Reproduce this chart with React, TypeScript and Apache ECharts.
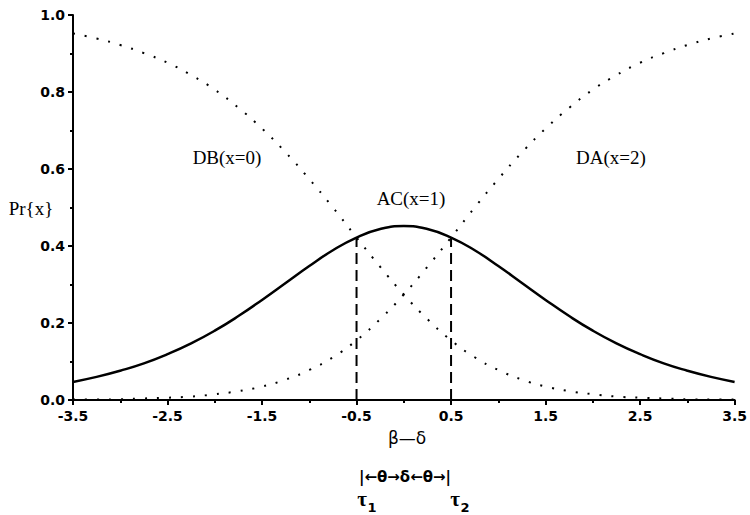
import React, { useEffect, useRef } from "react";
import * as echarts from "echarts";

// β−δ positions (logits)
const betaMinusDelta = [
  -3.5, -3.25, -3.0, -2.75, -2.5, -2.25, -2.0, -1.75, -1.5, -1.25, -1.0, -0.75, -0.5, -0.25, 0,
  0.25, 0.5, 0.75, 1.0, 1.25, 1.5, 1.75, 2.0, 2.25, 2.5, 2.75, 3.0, 3.25, 3.5,
];
// DB (x=0), dotted
const probDB = [
  0.952, 0.939, 0.922, 0.901, 0.876, 0.844, 0.806, 0.759, 0.705, 0.643, 0.574, 0.5, 0.422, 0.346, 0.274,
  0.21, 0.155, 0.111, 0.078, 0.053, 0.035, 0.023, 0.015, 0.009, 0.006, 0.004, 0.002, 0.001, 0.001,
];
// AC (x=1), solid
const probAC = [
  0.047, 0.06, 0.076, 0.095, 0.119, 0.147, 0.18, 0.218, 0.26, 0.304, 0.348, 0.389, 0.422, 0.444, 0.452,
  0.444, 0.422, 0.389, 0.348, 0.304, 0.26, 0.218, 0.18, 0.147, 0.119, 0.095, 0.076, 0.06, 0.047,
];
// DA (x=2), dotted
const probDA = [
  0.001, 0.001, 0.002, 0.004, 0.006, 0.009, 0.015, 0.023, 0.035, 0.053, 0.078, 0.111, 0.155, 0.21, 0.274,
  0.346, 0.422, 0.5, 0.574, 0.643, 0.705, 0.759, 0.806, 0.844, 0.876, 0.901, 0.922, 0.939, 0.952,
];
// thresholds τ1, τ2 and height of AC there
const thresholds = [-0.5, 0.5];
const thresholdHeights = [0.422, 0.422];

const curveLabels = ["DB(x=0)", "AC(x=1)", "DA(x=2)"];

export default function App() {
  const ref = useRef<HTMLDivElement>(null);
  useEffect(() => {
    document.body.style.margin = "0";
    if (!ref.current) return;
    const chart = echarts.init(ref.current, undefined, { renderer: "svg" });
    const pairs = (ys: number[]) => betaMinusDelta.map((x, i) => [x, ys[i]]);
    const dotted = { type: [2, 10] as any, width: 2, color: "#000", cap: "butt" as any };
    const serif = "'Liberation Serif', 'DejaVu Serif', serif";
    const sans = "'DejaVu Sans', sans-serif";
    const txt = (text: string, x: number, y: number, extra: any = {}) => ({
      type: "text",
      x,
      y,
      style: { text, fontFamily: serif, fontSize: 19, fill: "#000", align: "center", verticalAlign: "middle", ...extra },
    });
    const option: any = {
      animation: false,
      backgroundColor: "#fff",
      grid: { left: 73, right: 13, top: 15, bottom: 115 },
      xAxis: {
        type: "value",
        min: -3.5,
        max: 3.5,
        interval: 1,
        axisLine: { onZero: false, lineStyle: { color: "#000", width: 2 } },
        axisTick: { show: true, length: 5, lineStyle: { color: "#000", width: 2 } },
        minorTick: { show: true, splitNumber: 2, length: 3, lineStyle: { color: "#000", width: 2 } },
        splitLine: { show: false },
        axisLabel: {
          color: "#000",
          fontFamily: sans,
          fontWeight: "bold",
          fontSize: 14,
          margin: 9,
          formatter: (v: number) => v.toFixed(1),
        },
      },
      yAxis: {
        type: "value",
        min: 0,
        max: 1,
        interval: 0.2,
        axisLine: { show: true, onZero: false, lineStyle: { color: "#000", width: 2 } },
        axisTick: { show: true, length: 5, lineStyle: { color: "#000", width: 2 } },
        minorTick: { show: true, splitNumber: 2, length: 3, lineStyle: { color: "#000", width: 2 } },
        splitLine: { show: false },
        axisLabel: {
          color: "#000",
          fontFamily: sans,
          fontWeight: "bold",
          fontSize: 14,
          margin: 8,
          formatter: (v: number) => v.toFixed(1),
        },
      },
      series: [
        {
          name: curveLabels[0],
          type: "line",
          data: pairs(probDB),
          smooth: true,
          showSymbol: false,
          lineStyle: dotted,
        },
        {
          name: curveLabels[1],
          type: "line",
          data: pairs(probAC),
          smooth: true,
          showSymbol: false,
          lineStyle: { width: 2.5, color: "#000" },
        },
        {
          name: curveLabels[2],
          type: "line",
          data: pairs(probDA),
          smooth: true,
          showSymbol: false,
          lineStyle: dotted,
        },
        ...thresholds.map((t, i) => ({
          name: "tau" + (i + 1),
          type: "line",
          data: [
            [t, 0],
            [t, thresholdHeights[i]],
          ],
          showSymbol: false,
          lineStyle: { width: 2, color: "#000", type: [11, 6] },
        })),
      ],
      graphic: [
        txt("Pr{x}", 31, 208),
        txt(curveLabels[0], 227, 157),
        txt(curveLabels[1], 411, 198),
        txt(curveLabels[2], 611, 157),
        txt("β—δ", 407, 438, { fontFamily: sans, fontSize: 17 }),
        txt("|←θ→δ←θ→|", 405, 477, { fontFamily: sans, fontWeight: "bold", fontSize: 15 }),
        txt("τ", 362, 499, { fontWeight: "bold", fontSize: 21 }),
        txt("1", 372, 507, { fontFamily: sans, fontWeight: "bold", fontSize: 13 }),
        txt("τ", 455, 499, { fontWeight: "bold", fontSize: 21 }),
        txt("2", 465, 507, { fontFamily: sans, fontWeight: "bold", fontSize: 13 }),
      ],
    };
    chart.setOption(option);
    return () => chart.dispose();
  }, []);
  return <div ref={ref} style={{ width: 750, height: 515 }} />;
}
